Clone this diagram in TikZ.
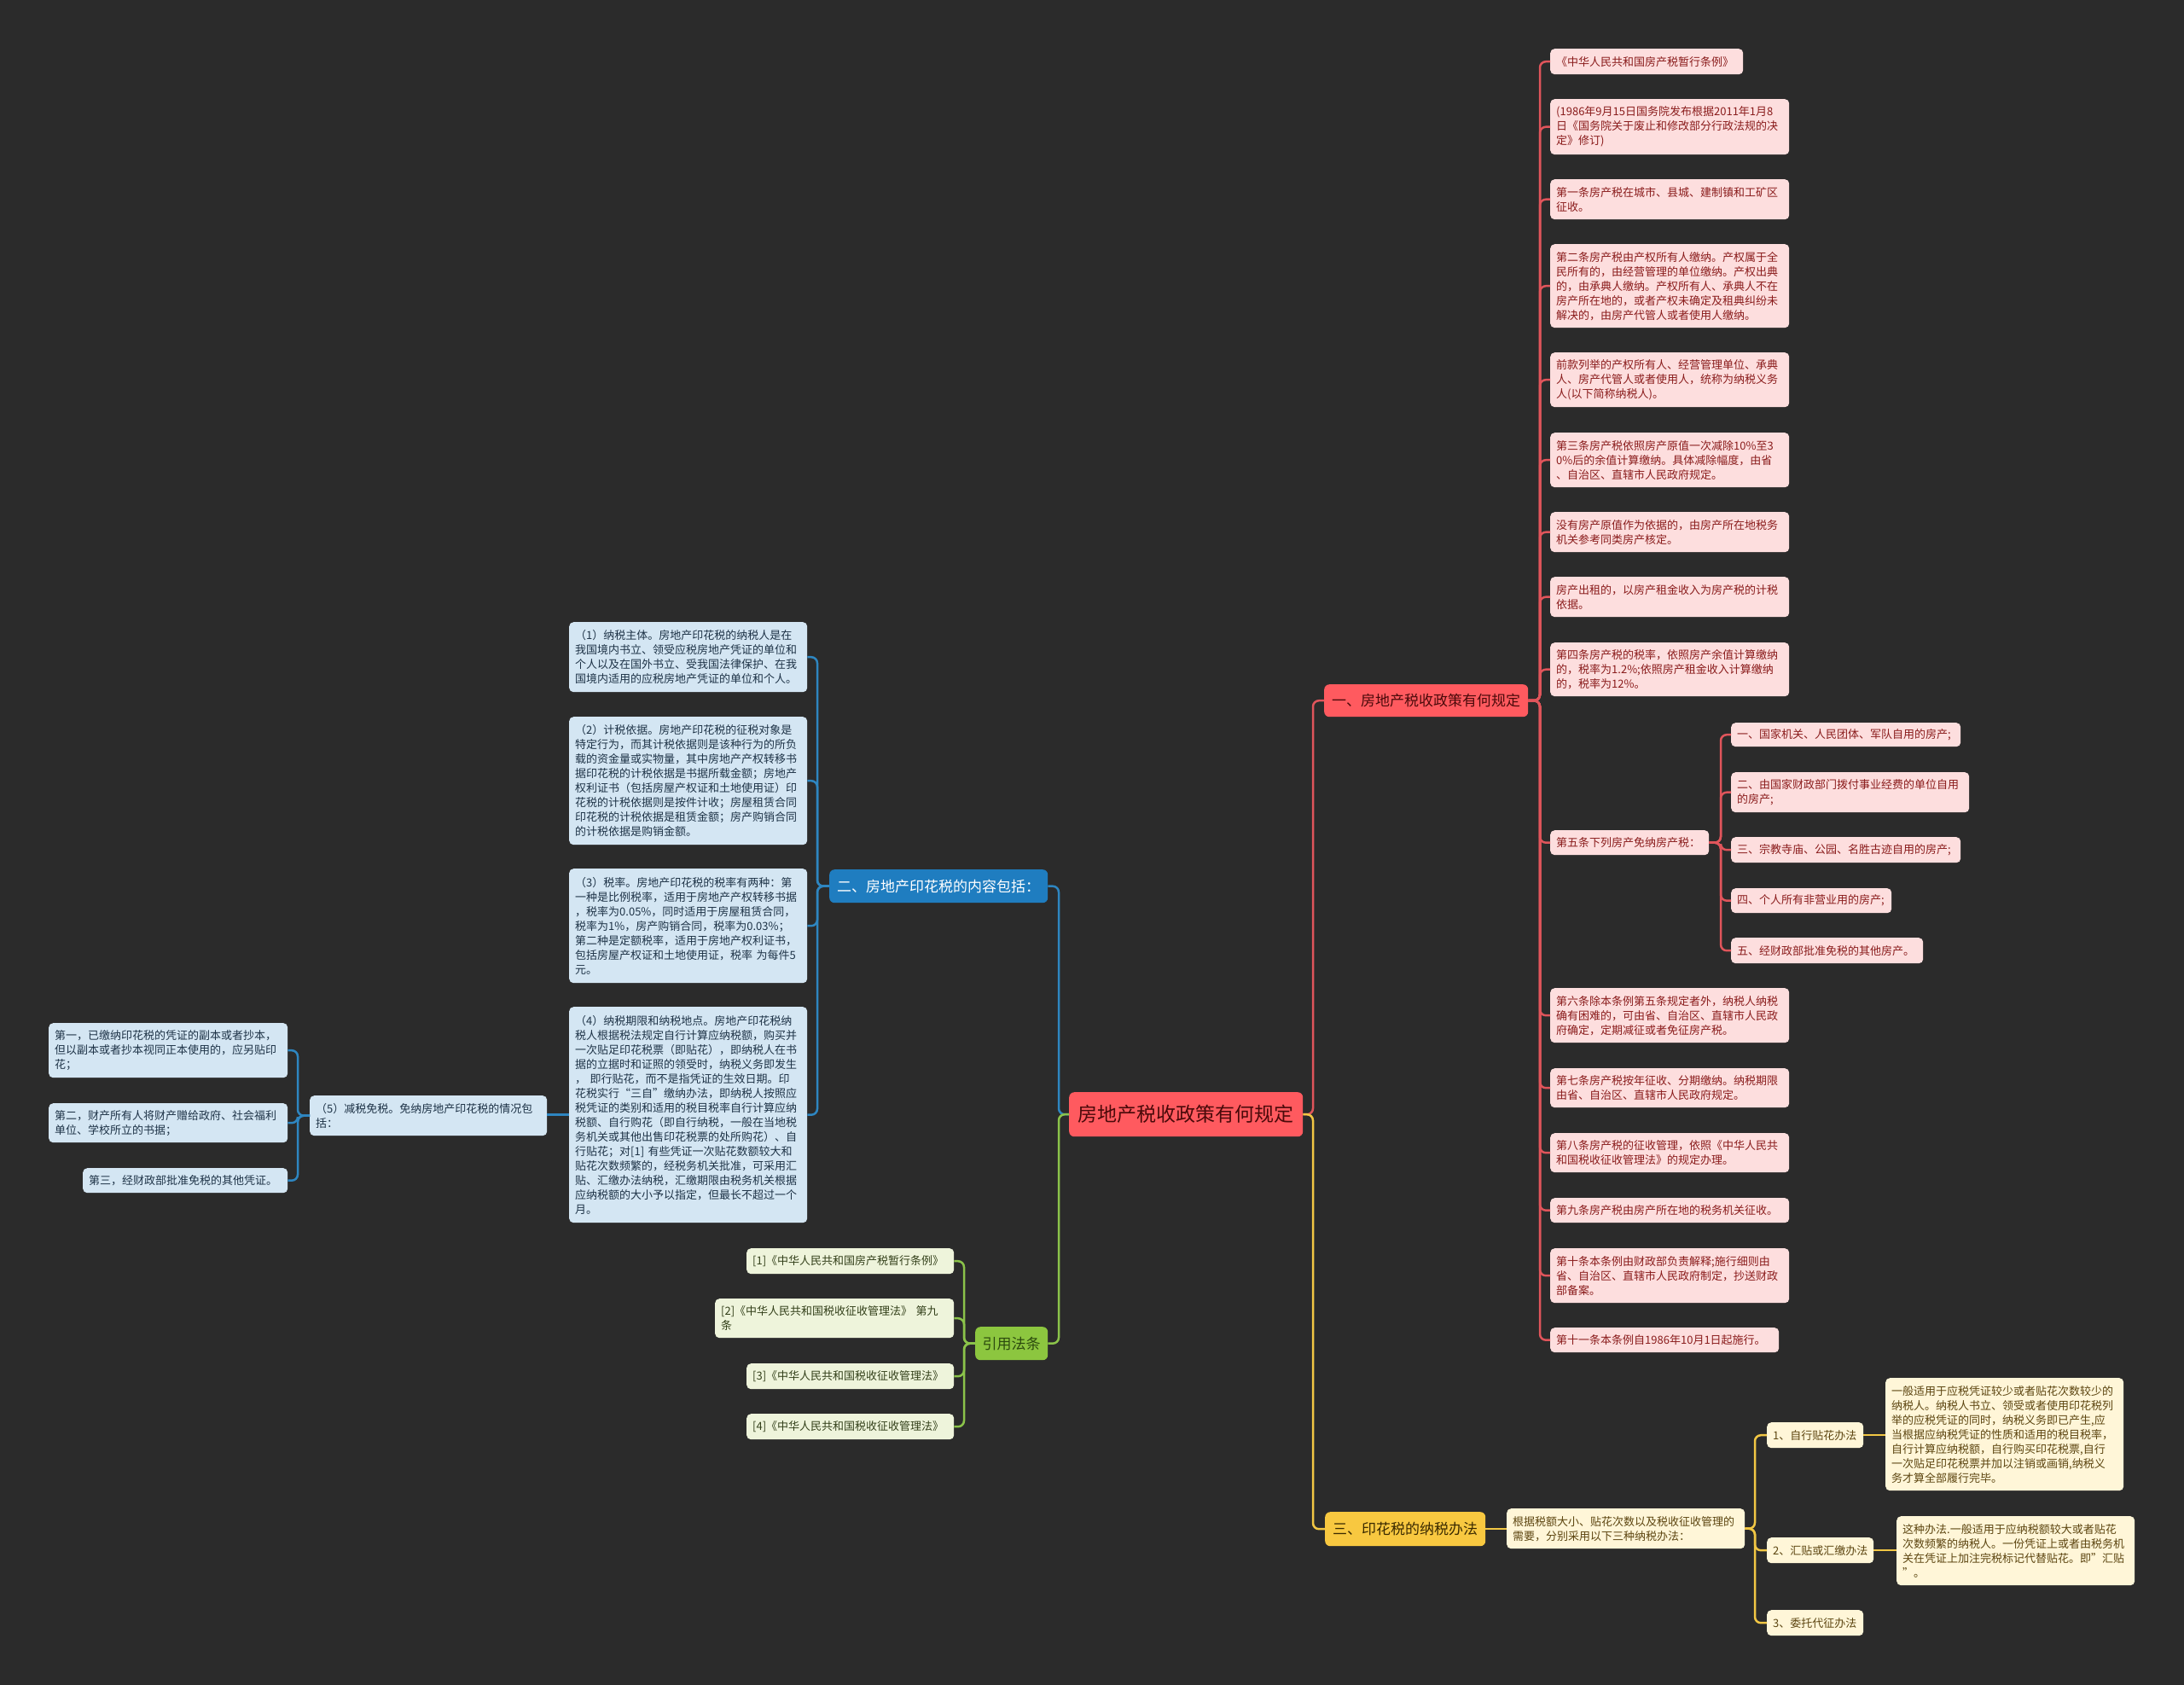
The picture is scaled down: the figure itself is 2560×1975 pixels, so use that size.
\documentclass[tikz,border=0pt]{standalone}
\usepackage{fontspec}
\setmainfont{Noto Sans CJK SC}
\definecolor{bgc}{HTML}{2B2B2B}
\definecolor{rline}{HTML}{E0555B}
\definecolor{rfill}{HTML}{FDDEDE}
\definecolor{rtext}{HTML}{8A1C1C}
\definecolor{rmain}{HTML}{FF5A5F}
\definecolor{rmaintext}{HTML}{4A0A0A}
\definecolor{bline}{HTML}{2E86C1}
\definecolor{bfill}{HTML}{D4E6F3}
\definecolor{btext}{HTML}{1E3347}
\definecolor{bmain}{HTML}{1F7DC0}
\definecolor{gline}{HTML}{8BC34A}
\definecolor{gfill}{HTML}{EEF4DB}
\definecolor{gtext}{HTML}{33401A}
\definecolor{gmain}{HTML}{8CC63F}
\definecolor{gmaintext}{HTML}{2C4A0E}
\definecolor{yline}{HTML}{F2C744}
\definecolor{yfill}{HTML}{FFF6D8}
\definecolor{ytext}{HTML}{5C4510}
\definecolor{ymain}{HTML}{F8C840}
\definecolor{ymaintext}{HTML}{3A2A00}
\begin{document}
\begin{tikzpicture}[x=1pt,y=-1pt,
  box/.style={rounded corners=5pt, inner xsep=7pt, inner ysep=1pt, anchor=north west, align=left, font=\fontsize{13}{17}\selectfont},
  rbox/.style={box, fill=rfill, text=rtext},
  bbox/.style={box, fill=bfill, text=btext},
  gbox/.style={box, fill=gfill, text=gtext},
  ybox/.style={box, fill=yfill, text=ytext},
  topic/.style={rounded corners=6pt, inner sep=0pt, anchor=north west, align=center, font=\fontsize{17}{20}\selectfont},
  conn/.style={line width=2.5pt, rounded corners=7pt},
  rl/.style={conn, draw=rline},
  bl/.style={conn, draw=bline},
  gl/.style={conn, draw=gline},
  yl/.style={conn, draw=yline}]
\fill[bgc] (0,0) rectangle (2560,1975);
\useasboundingbox (0,0) rectangle (2560,1975);

% trunk coordinates
\coordinate (trC) at (1539,0);
\coordinate (trL) at (1241,0);
\coordinate (trR) at (1805,0);
\coordinate (trS) at (2017,0);
\coordinate (trB) at (958,0);
\coordinate (trQ) at (349,0);
\coordinate (trG) at (1130,0);
\coordinate (trY) at (2057,0);

% central and main topics
\node[topic, fill=rmain, text=rmaintext, minimum width=274pt, minimum height=52pt, font=\fontsize{23}{26}\selectfont] (c) at (1253,1280) {房地产税收政策有何规定};
\node[topic, fill=rmain, text=rmaintext, minimum width=239pt, minimum height=38pt] (a) at (1552,802) {一、房地产税收政策有何规定};
\node[topic, fill=bmain, text=white, minimum width=256pt, minimum height=39pt] (b) at (972,1019) {二、房地产印花税的内容包括：};
\node[topic, fill=gmain, text=gmaintext, minimum width=85pt, minimum height=39pt] (g) at (1143,1555) {引用法条};
\node[topic, fill=ymain, text=ymaintext, minimum width=188pt, minimum height=40pt] (y) at (1553,1772) {三、印花税的纳税办法};

% red branch
\node[rbox, text width=212pt, minimum height=30pt] (r1) at (1817,57) {《中华人民共和国房产税暂行条例》};
\node[rbox, text width=266pt, minimum height=65pt] (r2) at (1817,116) {(1986年9月15日国务院发布根据2011年1月8\\日《国务院关于废止和修改部分行政法规的决\\定》修订)};
\node[rbox, text width=266pt, minimum height=47pt] (r3) at (1817,210) {第一条房产税在城市、县城、建制镇和工矿区\\征收。};
\node[rbox, text width=266pt, minimum height=98pt] (r4) at (1817,286) {第二条房产税由产权所有人缴纳。产权属于全\\民所有的，由经营管理的单位缴纳。产权出典\\的，由承典人缴纳。产权所有人、承典人不在\\房产所在地的，或者产权未确定及租典纠纷未\\解决的，由房产代管人或者使用人缴纳。};
\node[rbox, text width=266pt, minimum height=64pt] (r5) at (1817,413) {前款列举的产权所有人、经营管理单位、承典\\人、房产代管人或者使用人，统称为纳税义务\\人(以下简称纳税人)。};
\node[rbox, text width=266pt, minimum height=64pt] (r6) at (1817,507) {第三条房产税依照房产原值一次减除10\%至3\\0\%后的余值计算缴纳。具体减除幅度，由省\\、自治区、直辖市人民政府规定。};
\node[rbox, text width=266pt, minimum height=47pt] (r7) at (1817,600) {没有房产原值作为依据的，由房产所在地税务\\机关参考同类房产核定。};
\node[rbox, text width=266pt, minimum height=47pt] (r8) at (1817,676) {房产出租的，以房产租金收入为房产税的计税\\依据。};
\node[rbox, text width=266pt, minimum height=63pt] (r9) at (1817,753) {第四条房产税的税率，依照房产余值计算缴纳\\的，税率为1.2\%;依照房产租金收入计算缴纳\\的，税率为12\%。};
\node[rbox, text width=172pt, minimum height=29pt] (r10) at (1817,973) {第五条下列房产免纳房产税：};
\node[rbox, text width=255pt, minimum height=28pt] (s1) at (2029,847) {一、国家机关、人民团体、军队自用的房产;};
\node[rbox, text width=265pt, minimum height=47pt] (s2) at (2029,905) {二、由国家财政部门拨付事业经费的单位自用\\的房产;};
\node[rbox, text width=255pt, minimum height=30pt] (s3) at (2029,981) {三、宗教寺庙、公园、名胜古迹自用的房产;};
\node[rbox, text width=174pt, minimum height=29pt] (s4) at (2029,1041) {四、个人所有非营业用的房产;};
\node[rbox, text width=211pt, minimum height=30pt] (s5) at (2029,1099) {五、经财政部批准免税的其他房产。};
\node[rbox, text width=266pt, minimum height=64pt] (r11) at (1817,1158) {第六条除本条例第五条规定者外，纳税人纳税\\确有困难的，可由省、自治区、直辖市人民政\\府确定，定期减征或者免征房产税。};
\node[rbox, text width=266pt, minimum height=46pt] (r12) at (1817,1252) {第七条房产税按年征收、分期缴纳。纳税期限\\由省、自治区、直辖市人民政府规定。};
\node[rbox, text width=266pt, minimum height=46pt] (r13) at (1817,1328) {第八条房产税的征收管理，依照《中华人民共\\和国税收征收管理法》的规定办理。};
\node[rbox, text width=266pt, minimum height=29pt] (r14) at (1817,1404) {第九条房产税由房产所在地的税务机关征收。};
\node[rbox, text width=266pt, minimum height=64pt] (r15) at (1817,1463) {第十条本条例由财政部负责解释;施行细则由\\省、自治区、直辖市人民政府制定，抄送财政\\部备案。};
\node[rbox, text width=254pt, minimum height=29pt] (r16) at (1817,1556) {第十一条本条例自1986年10月1日起施行。};

% blue branch
\node[bbox, text width=265pt, minimum height=82pt] (p1) at (667,729) {（1）纳税主体。房地产印花税的纳税人是在\\我国境内书立、领受应税房地产凭证的单位和\\个人以及在国外书立、受我国法律保护、在我\\国境内适用的应税房地产凭证的单位和个人。};
\node[bbox, text width=265pt, minimum height=150pt] (p2) at (667,840) {（2）计税依据。房地产印花税的征税对象是\\特定行为，而其计税依据则是该种行为的所负\\载的资金量或实物量，其中房地产产权转移书\\据印花税的计税依据是书据所载金额；房地产\\权利证书（包括房屋产权证和土地使用证）印\\花税的计税依据则是按件计收；房屋租赁合同\\印花税的计税依据是租赁金额；房产购销合同\\的计税依据是购销金额。};
\node[bbox, text width=265pt, minimum height=134pt] (p3) at (667,1018) {（3）税率。房地产印花税的税率有两种：第\\一种是比例税率，适用于房地产产权转移书据\\，税率为0.05\%，同时适用于房屋租赁合同，\\税率为1\%，房产购销合同，税率为0.03\%；\\第二种是定额税率，适用于房地产权利证书，\\包括房屋产权证和土地使用证，税率~为每件5\\元。};
\node[bbox, text width=265pt, minimum height=253pt] (p4) at (667,1180) {（4）纳税期限和纳税地点。房地产印花税纳\\税人根据税法规定自行计算应纳税额，购买并\\一次贴足印花税票（即贴花），即纳税人在书\\据的立据时和证照的领受时，纳税义务即发生\\，~即行贴花，而不是指凭证的生效日期。印\\花税实行“三自”缴纳办法，即纳税人按照应\\税凭证的类别和适用的税目税率自行计算应纳\\税额、自行购花（即自行纳税，一般在当地税\\务机关或其他出售印花税票的处所购花）、自\\行贴花；对[1]~有些凭证一次贴花数额较大和\\贴花次数频繁的，经税务机关批准，可采用汇\\贴、汇缴办法纳税，汇缴期限由税务机关根据\\应纳税额的大小予以指定，但最长不超过一个\\月。};
\node[bbox, text width=264pt, minimum height=47pt] (q5) at (363,1284) {（5）减税免税。免纳房地产印花税的情况包\\括：};
\node[bbox, text width=266pt, minimum height=64pt] (t1) at (57,1199) {第一，已缴纳印花税的凭证的副本或者抄本，\\但以副本或者抄本视同正本使用的，应另贴印\\花；};
\node[bbox, text width=266pt, minimum height=46pt] (t2) at (57,1293) {第二，财产所有人将财产赠给政府、社会福利\\单位、学校所立的书据；};
\node[bbox, text width=226pt, minimum height=29pt] (t3) at (97,1369) {第三，经财政部批准免税的其他凭证。};

% green branch
\node[gbox, text width=229pt, minimum height=30pt] (f1) at (875,1463) {[1]《中华人民共和国房产税暂行条例》};
\node[gbox, text width=266pt, minimum height=46pt] (f2) at (838,1522) {[2]《中华人民共和国税收征收管理法》~第九\\条};
\node[gbox, text width=229pt, minimum height=30pt] (f3) at (875,1598) {[3]《中华人民共和国税收征收管理法》};
\node[gbox, text width=229pt, minimum height=30pt] (f4) at (875,1657) {[4]《中华人民共和国税收征收管理法》};

% yellow branch
\node[ybox, text width=265pt, minimum height=47pt] (y1) at (1766,1768) {根据税额大小、贴花次数以及税收征收管理的\\需要，分别采用以下三种纳税办法：};
\node[ybox, text width=99pt, minimum height=30pt] (m1) at (2071,1667) {1、自行贴花办法};
\node[ybox, text width=265pt, minimum height=132pt] (m1d) at (2210,1615) {一般适用于应税凭证较少或者贴花次数较少的\\纳税人。纳税人书立、领受或者使用印花税列\\举的应税凭证的同时，纳税义务即已产生,应\\当根据应纳税凭证的性质和适用的税目税率，\\自行计算应纳税额，自行购买印花税票,自行\\一次贴足印花税票并加以注销或画销,纳税义\\务才算全部履行完毕。};
\node[ybox, text width=111pt, minimum height=30pt] (m2) at (2071,1802) {2、汇贴或汇缴办法};
\node[ybox, text width=265pt, minimum height=81pt] (m2d) at (2223,1777) {这种办法.一般适用于应纳税额较大或者贴花\\次数频繁的纳税人。一份凭证上或者由税务机\\关在凭证上加注完税标记代替贴花。即”汇贴\\”。};
\node[ybox, text width=99pt, minimum height=30pt] (m3) at (2071,1887) {3、委托代征办法};

% connectors: center
\draw[rl] (c.east) -- (c.east -| trC) |- (a.west);
\draw[yl] (c.east) -- (c.east -| trC) |- (y.west);
\draw[bl] (c.west) -- (c.west -| trL) |- (b.east);
\draw[gl] (c.west) -- (c.west -| trL) |- (g.east);

% red
\foreach \n in {r1,r2,r3,r4,r5,r6,r7,r8,r9,r10,r11,r12,r13,r14,r15,r16}
  \draw[rl] (a.east) -- (a.east -| trR) |- (\n.west);
\foreach \n in {s1,s2,s3,s4,s5}
  \draw[rl] (r10.east) -- (r10.east -| trS) |- (\n.west);

% blue
\foreach \n in {p1,p2,p3,p4}
  \draw[bl] (b.west) -- (b.west -| trB) |- (\n.east);
\draw[bl] (p4.west) -- (p4.west -| q5.east);
\foreach \n in {t1,t2,t3}
  \draw[bl] (q5.west) -- (q5.west -| trQ) |- (\n.east);

% green
\foreach \n in {f1,f2,f3,f4}
  \draw[gl] (g.west) -- (g.west -| trG) |- (\n.east);

% yellow
\draw[yl] (y.east) -- (y.east -| y1.west);
\foreach \n in {m1,m2,m3}
  \draw[yl] (y1.east) -- (y1.east -| trY) |- (\n.west);
\draw[yl] (m1.east) -- (m1.east -| m1d.west);
\draw[yl] (m2.east) -- (m2.east -| m2d.west);
\end{tikzpicture}
\end{document}
